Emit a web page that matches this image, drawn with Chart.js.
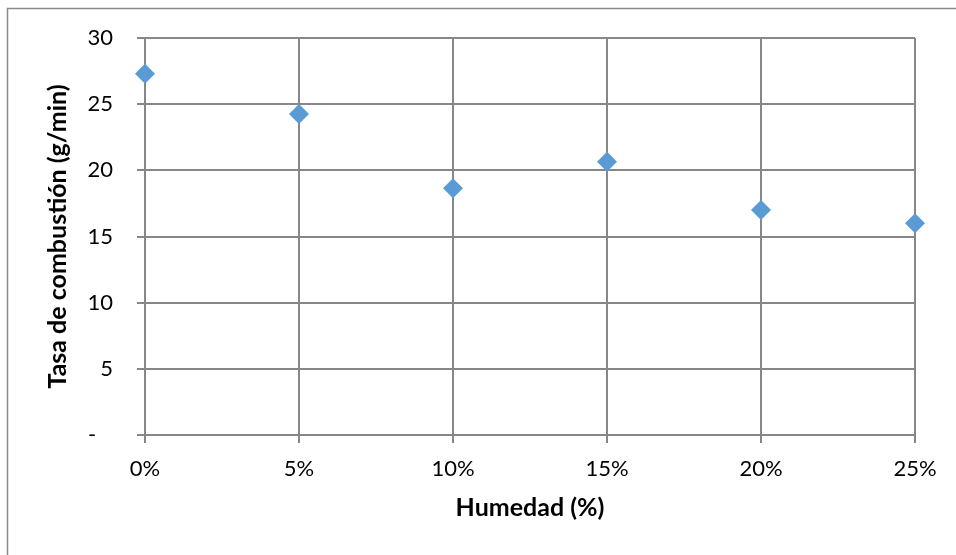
<!DOCTYPE html>
<html>
<head>
<meta charset="utf-8">
<script src="https://cdn.jsdelivr.net/npm/chart.js@4/dist/chart.umd.min.js"></script>
<style>
  html, body { margin: 0; padding: 0; background: #ffffff; }
  #wrap { position: relative; width: 956px; height: 555px; }
</style>
</head>
<body>
<div id="wrap"><canvas id="c" width="956" height="555"></canvas></div>
<script>
// Moisture content of the fuel and measured burn rate
const categories = ['0%', '5%', '10%', '15%', '20%', '25%'];
const burnRate = [27.3, 24.25, 18.65, 20.65, 17.0, 16.0];
const yTickLabels = ['-', '5', '10', '15', '20', '25', '30'];

const xTitle = 'Humedad (%)';
const yTitle = 'Tasa de combustión (g/min)';

const GRID = '#878787';
const FONT = 'Lato, "Open Sans", sans-serif';

// frame edges around the chart (left and top)
const framePlugin = {
  id: 'frame',
  beforeDraw(chart) {
    const ctx = chart.ctx;
    ctx.save();
    ctx.strokeStyle = '#8a8a8a';
    ctx.lineWidth = 1.5;
    ctx.beginPath();
    ctx.moveTo(7.5, 560);
    ctx.lineTo(7.5, 8.5);
    ctx.lineTo(960, 8.5);
    ctx.stroke();
    ctx.restore();
  }
};

new Chart(document.getElementById('c'), {
  type: 'line',
  data: {
    labels: categories,
    datasets: [{
      data: burnRate,
      showLine: false,
      pointStyle: 'rectRot',
      pointRadius: 10,
      pointHoverRadius: 10,
      pointBackgroundColor: '#5b9bd5',
      pointBorderColor: '#5b9bd5',
      pointBorderWidth: 0
    }]
  },
  options: {
    responsive: false,
    animation: false,
    events: [],
    layout: { padding: { left: 0, top: 38, right: 41, bottom: 0 } },
    plugins: { legend: { display: false }, tooltip: { enabled: false } },
    scales: {
      x: {
        type: 'category',
        offset: false,
        afterFit(scale) { scale.height = 120; },
        grid: { color: GRID, lineWidth: 2, tickLength: 8, tickColor: GRID },
        border: { color: GRID, width: 2 },
        ticks: {
          color: '#000000',
          padding: 13,
          maxRotation: 0,
          autoSkip: false,
          font: { family: FONT, size: 22 }
        },
        title: {
          display: true,
          text: xTitle,
          color: '#000000',
          padding: { top: 0, bottom: 32 },
          font: { family: FONT, size: 25, weight: 'bold' }
        }
      },
      y: {
        min: 0,
        max: 30,
        afterFit(scale) { scale.width = 145; },
        grid: { color: GRID, lineWidth: 2, tickLength: 8, tickColor: GRID },
        border: { color: GRID, width: 2 },
        ticks: {
          stepSize: 5,
          color: '#000000',
          padding: 24,
          font: { family: FONT, size: 22 },
          callback(value, index) {
            const label = yTickLabels[index];
            return label === '-' ? label + '   ' : label;
          }
        },
        title: {
          display: true,
          text: yTitle,
          color: '#000000',
          padding: { top: 43, bottom: 0 },
          font: { family: FONT, size: 25, weight: 'bold' }
        }
      }
    }
  },
  plugins: [framePlugin]
});
</script>
</body>
</html>
